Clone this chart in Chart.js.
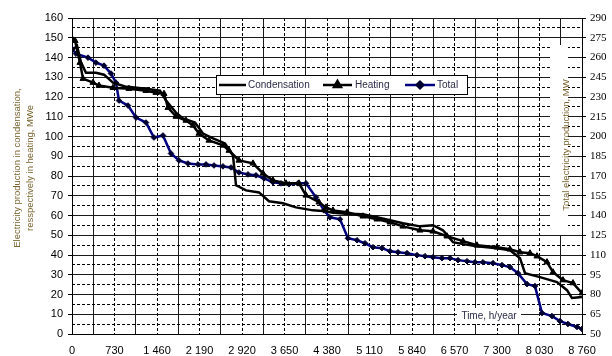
<!DOCTYPE html>
<html>
<head>
<meta charset="utf-8">
<script src="https://cdn.jsdelivr.net/npm/chart.js@4.4.0/dist/chart.umd.min.js"></script>
<style>
  html, body { margin: 0; padding: 0; background: #fff; }
  #wrap { width: 612px; height: 356px; position: relative; }
</style>
</head>
<body>
<div id="wrap"><canvas id="c" width="612" height="356"></canvas></div>
<script>
// Hours of the year (duration curve) and production values
const condensationHours = [0,86,155,240,412,550,704,910,1271,1511,1615,1786,1907,2113,2250,2422,2628,2765,2817,2989,3212,3384,3624,3847,4139,4363,4483,4723,4998,5239,5462,5685,5977,6200,6372,6544,6716,6956,7300,7523,7695,7781,8038,8330,8502,8588,8760];
const condensationMWe = [143.4,146.0,137.4,132.3,132.3,131.3,127.3,125.3,124.2,123.2,118.2,112.1,109.1,107.1,101.5,99.0,96.5,90.4,75.3,72.7,71.7,67.2,66.2,64.1,62.6,62.1,61.4,60.9,60.6,59.1,57.6,56.1,54.5,55.1,52.5,46.5,45.5,44.4,43.4,42.4,38.4,30.8,28.8,26.3,22.2,18.2,18.7];

const heatingHours = [0,52,137,189,361,464,704,979,1271,1443,1580,1649,1786,1958,2079,2181,2353,2594,2697,2868,3109,3281,3452,3676,3899,4019,4242,4363,4483,4723,4998,5239,5462,5685,5977,6200,6441,6716,6956,7300,7523,7695,7867,7987,8159,8262,8433,8605,8760];
const heatingMWe = [149.5,148.5,137.4,129.3,127.3,125.8,124.7,124.2,123.2,122.2,121.7,114.6,110.1,108.1,105.6,101.5,98.0,95.5,92.9,87.9,86.4,81.3,77.8,76.3,76.3,70.2,66.7,64.1,62.6,61.6,59.6,58.1,56.6,54.5,52.5,52.0,49.5,47.0,44.9,43.9,42.9,41.4,40.9,39.4,36.4,31.3,27.3,25.8,20.7];

const totalHours = [0,69,275,412,550,670,756,807,962,1099,1271,1408,1563,1700,1838,1992,2164,2302,2439,2593,2731,2868,3023,3160,3298,3452,3590,3727,3882,4019,4191,4328,4431,4603,4740,4895,5033,5170,5325,5462,5599,5754,5926,6063,6200,6355,6493,6630,6785,6922,7059,7231,7386,7523,7660,7815,7952,8073,8245,8382,8519,8674,8760];
const totalMW = [266.7,262.9,259.9,256.1,253.8,247.8,240.9,227.3,223.5,214.4,210.6,199.2,200.8,187.1,181.8,179.5,178.8,178.8,178.0,177.3,176.5,172.7,171.2,170.5,168.2,165.2,164.4,163.7,164.4,164.4,153.8,143.9,138.6,137.1,122.7,121.2,118.9,115.9,115.2,112.9,112.1,111.4,109.9,109.1,108.3,107.6,107.6,106.1,105.3,104.5,104.5,103.8,102.3,100.8,96.2,87.9,86.4,65.9,63.6,59.8,57.6,55.3,53.8];

// Axis ticks
const xTickValues = [0,730,1460,2190,2920,3650,4380,5110,5840,6570,7300,8030,8760];
const xTickLabels = ['0','730','1 460','2 190','2 920','3 650','4 380','5 110','5 840','6 570','7 300','8 030','8 760'];
const xMidValues = [365,1095,1825,2555,3285,4015,4745,5475,6205,6935,7665,8395];
const leftTickValues = [0,10,20,30,40,50,60,70,80,90,100,110,120,130,140,150,160];
const leftMidValues = [5,15,25,35,45,55,65,75,85,95,105,115,125,135,145,155];
const rightTickValues = [50,65,80,95,110,125,140,155,170,185,200,215,230,245,260,275,290];

const seriesNames = ['Condensation','Heating','Total'];
const leftTitle = ['Electricity production in condensation,', 'resspectively in heating, MWe'];
const rightTitle = 'Total electricity production, MW';
const xTitle = 'Time, h/year';

const pairs = (xs, ys) => xs.map((x, i) => ({ x: x, y: ys[i] }));
const fixTicks = vals => scale => { scale.ticks = vals.map(v => ({ value: v })); };

const tickFont = { family: 'Liberation Sans, Arial, sans-serif', size: 11 };
const TITLE_COLOR = '#7a6530';
const LABEL_COLOR = '#2b2b48';

// Titles, floating legend and label backgrounds
const annotations = {
  id: 'annotations',
  afterDatasetsDraw(chart) {
    const ctx = chart.ctx;
    const ds = chart.data.datasets;
    ctx.save();

    // right title background + text
    ctx.fillStyle = '#fff';
    ctx.fillRect(550, 45, 18, 190);
    ctx.translate(566, 145);
    ctx.rotate(-Math.PI / 2);
    ctx.font = '9.5px "Liberation Sans", Arial, sans-serif';
    ctx.fillStyle = TITLE_COLOR;
    ctx.textAlign = 'center';
    ctx.textBaseline = 'middle';
    ctx.fillText(rightTitle, 0, 0);
    ctx.restore();

    // left title (two lines)
    ctx.save();
    ctx.translate(17, 168);
    ctx.rotate(-Math.PI / 2);
    ctx.font = '9.5px "Liberation Sans", Arial, sans-serif';
    ctx.fillStyle = TITLE_COLOR;
    ctx.textAlign = 'center';
    ctx.textBaseline = 'middle';
    ctx.fillText(leftTitle[0], 0, 0);
    ctx.fillText(leftTitle[1], 0, 13);
    ctx.restore();

    // x title with background
    ctx.save();
    ctx.fillStyle = '#fff';
    ctx.fillRect(457, 308, 64, 16);
    ctx.font = '10px "Liberation Sans", Arial, sans-serif';
    ctx.fillStyle = LABEL_COLOR;
    ctx.textAlign = 'center';
    ctx.textBaseline = 'middle';
    ctx.fillText(xTitle, 489, 316);
    ctx.restore();

    // legend
    ctx.save();
    ctx.fillStyle = '#fff';
    ctx.fillRect(216.5, 75.5, 251, 19);
    ctx.strokeStyle = '#000';
    ctx.lineWidth = 1;
    ctx.strokeRect(216.5, 75.5, 251, 19);
    const ly = 85;
    const items = [
      { x0: 219, x1: 246, tx: 248 },
      { x0: 323, x1: 352, tx: 355 },
      { x0: 405, x1: 435, tx: 437 }
    ];
    items.forEach((it, i) => {
      const d = ds[i];
      ctx.strokeStyle = d.borderColor;
      ctx.lineWidth = d.borderWidth;
      ctx.beginPath();
      ctx.moveTo(it.x0, ly);
      ctx.lineTo(it.x1, ly);
      ctx.stroke();
      if (d.pointRadius > 0) {
        ctx.fillStyle = d.pointBackgroundColor;
        ctx.strokeStyle = d.pointBorderColor;
        Chart.helpers.drawPoint(ctx, {
          pointStyle: d.pointStyle, radius: d.pointRadius + 0.5, borderWidth: 1, rotation: 0
        }, (it.x0 + it.x1) / 2, ly);
      }
      ctx.font = '10px "Liberation Sans", Arial, sans-serif';
      ctx.fillStyle = LABEL_COLOR;
      ctx.textAlign = 'left';
      ctx.textBaseline = 'middle';
      ctx.fillText(seriesNames[i], it.tx, ly);
    });
    ctx.restore();
  }
};

new Chart(document.getElementById('c'), {
  type: 'line',
  data: {
    datasets: [
      {
        label: seriesNames[0],
        data: pairs(condensationHours, condensationMWe),
        yAxisID: 'y',
        borderColor: '#000',
        backgroundColor: '#000',
        borderWidth: 2.5,
        pointRadius: 0,
        tension: 0
      },
      {
        label: seriesNames[1],
        data: pairs(heatingHours, heatingMWe),
        yAxisID: 'y',
        borderColor: '#000',
        backgroundColor: '#000',
        borderWidth: 2.5,
        pointStyle: 'triangle',
        pointRadius: 3.5,
        pointBackgroundColor: '#000',
        pointBorderColor: '#000',
        pointBorderWidth: 1,
        tension: 0
      },
      {
        label: seriesNames[2],
        data: pairs(totalHours, totalMW),
        yAxisID: 'yR',
        borderColor: '#000080',
        backgroundColor: '#000030',
        borderWidth: 2.5,
        pointStyle: 'rectRot',
        pointRadius: 2.8,
        pointBackgroundColor: '#000030',
        pointBorderColor: '#000030',
        pointBorderWidth: 1,
        tension: 0
      }
    ]
  },
  options: {
    responsive: false,
    animation: false,
    devicePixelRatio: 1,
    layout: { padding: { top: 18, left: 0, right: 0, bottom: 0 } },
    plugins: { legend: { display: false }, tooltip: { enabled: false } },
    scales: {
      x: {
        type: 'linear', position: 'bottom', min: 0, max: 8760,
        afterBuildTicks: fixTicks(xTickValues),
        afterFit: s => { s.height = 22; },
        ticks: {
          autoSkip: false, maxRotation: 0, padding: 10, color: '#000', font: tickFont,
          callback: (v, i) => xTickLabels[i]
        },
        grid: { color: '#000', lineWidth: 1, drawTicks: false },
        border: { display: true, color: '#000', width: 1, dash: [3, 2] }
      },
      xMid: {
        type: 'linear', position: 'bottom', min: 0, max: 8760,
        afterBuildTicks: fixTicks(xMidValues),
        afterFit: s => { s.height = 0; },
        ticks: { display: false },
        grid: { color: '#1a1a1a', lineWidth: 1, drawTicks: false },
        border: { display: false }
      },
      y: {
        type: 'linear', position: 'left', min: 0, max: 160,
        afterBuildTicks: fixTicks(leftTickValues),
        afterFit: s => { s.width = 72; },
        ticks: { padding: 5, color: '#000', font: tickFont },
        grid: { color: '#1a1a1a', lineWidth: 1, tickLength: 4, tickColor: '#000' },
        border: { display: true, color: '#000', width: 1 }
      },
      yMid: {
        type: 'linear', position: 'left', min: 0, max: 160,
        afterBuildTicks: fixTicks(leftMidValues),
        afterFit: s => { s.width = 0; },
        ticks: { display: false },
        grid: { color: '#000', lineWidth: 1, drawTicks: false },
        border: { display: false, dash: [3, 2] }
      },
      yR: {
        type: 'linear', position: 'right', min: 50, max: 290,
        afterBuildTicks: fixTicks(rightTickValues),
        afterFit: s => { s.width = 30; },
        ticks: { padding: 4, color: '#000', font: { family: 'Liberation Serif, Times New Roman, serif', size: 11 } },
        grid: { drawOnChartArea: false, tickLength: 4, tickColor: '#000' },
        border: { display: true, color: '#000', width: 1 }
      }
    }
  },
  plugins: [annotations]
});
</script>
</body>
</html>
